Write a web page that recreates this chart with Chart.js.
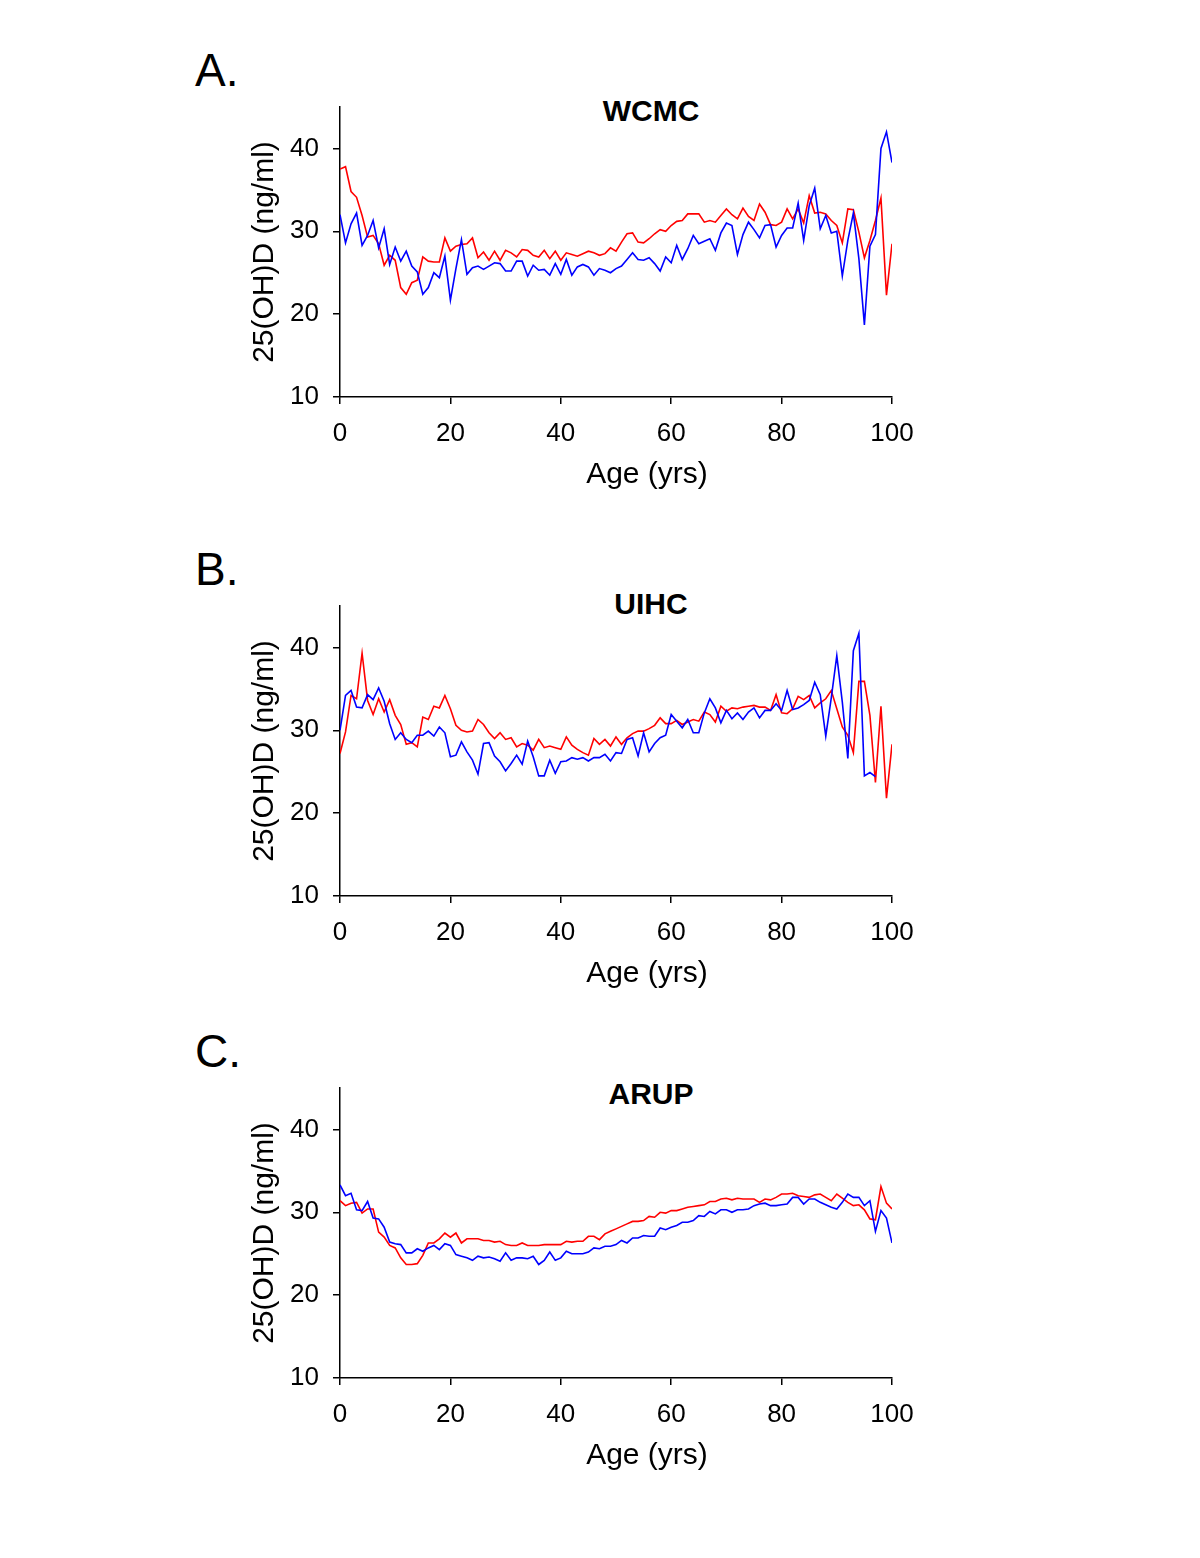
<!DOCTYPE html>
<html>
<head>
<meta charset="utf-8">
<script src="https://cdn.jsdelivr.net/npm/chart.js@4/dist/chart.umd.min.js"></script>
<style>
  html, body { margin:0; padding:0; background:#fff; }
  body { width:1200px; height:1558px; position:relative; overflow:hidden; font-family:"Liberation Sans", Arial, sans-serif; }
  .wrap { position:absolute; left:0; width:1200px; height:451px; }
  .letter { position:absolute; left:195px; font-size:46px; line-height:46px; color:#000; }
  .ptitle { position:absolute; left:551px; width:200px; text-align:center; font-size:30px; line-height:30px; font-weight:bold; color:#000; }
  .xtitle { position:absolute; left:547px; width:200px; text-align:center; font-size:30px; line-height:30px; color:#000; white-space:nowrap; }
</style>
</head>
<body>
<div class="letter" style="top:47px">A.</div>
<div class="letter" style="top:546px">B.</div>
<div class="letter" style="top:1028px">C.</div>
<div class="ptitle" style="top:96px">WCMC</div>
<div class="ptitle" style="top:589px">UIHC</div>
<div class="ptitle" style="top:1079px">ARUP</div>
<div class="wrap" style="top:47px"><canvas id="cA" width="1200" height="451"></canvas></div>
<div class="wrap" style="top:546px"><canvas id="cB" width="1200" height="451"></canvas></div>
<div class="wrap" style="top:1028px"><canvas id="cC" width="1200" height="451"></canvas></div>
<div class="xtitle" id="xtA" style="top:458px"></div>
<div class="xtitle" id="xtB" style="top:957px"></div>
<div class="xtitle" id="xtC" style="top:1439px"></div>
<script>
const xTicks = [0, 20, 40, 60, 80, 100];
const yTicks = [10, 20, 30, 40];
const xTitle = 'Age (yrs)';
const yTitle = '25(OH)D (ng/ml)';

const wcmcRed = [37.5,37.8,34.8,34.1,31.9,29.3,29.5,28.5,25.9,27.1,
  26.5,23.2,22.4,23.8,24.1,26.9,26.4,26.3,26.3,29.2,
  27.6,28.2,28.4,28.5,29.2,26.8,27.5,26.5,27.6,26.5,
  27.7,27.4,26.9,27.8,27.7,27.1,26.9,27.7,26.7,27.6,
  26.5,27.4,27.2,27.0,27.3,27.6,27.4,27.1,27.3,28.0,
  27.6,28.7,29.7,29.8,28.7,28.6,29.1,29.7,30.2,30.0,
  30.7,31.2,31.3,32.1,32.1,32.1,31.1,31.3,31.1,31.9,
  32.7,32.0,31.5,32.8,31.8,31.3,33.3,32.3,30.8,30.7,
  31.1,32.7,31.5,32.7,31.0,34.3,32.2,32.3,32.1,31.3,
  30.7,28.6,32.7,32.6,29.9,26.8,28.9,31.3,34.0,22.3,28.5];
const wcmcBlue = [32.0,28.6,30.9,32.2,28.3,29.5,31.3,28.0,30.3,26.0,
  28.1,26.4,27.6,25.8,25.1,22.4,23.2,25.0,24.4,27.0,
  21.7,25.5,29.0,24.8,25.6,25.8,25.4,25.8,26.2,26.1,
  25.2,25.2,26.4,26.4,24.6,25.9,25.3,25.4,24.7,26.1,
  24.8,26.6,24.7,25.7,26.0,25.7,24.7,25.5,25.3,25.0,
  25.5,25.8,26.6,27.4,26.6,26.5,26.8,26.1,25.2,26.9,
  26.2,28.3,26.6,27.9,29.5,28.5,28.8,29.1,27.7,29.8,
  31.0,30.7,27.2,29.6,31.1,30.2,29.2,30.7,30.8,28.1,
  29.5,30.4,30.4,33.4,28.9,33.1,35.2,30.3,31.9,29.8,
  30.0,24.6,28.9,32.2,26.7,18.7,28.2,29.6,40.0,42.0,38.3];

const uihcRed = [27.2,29.8,34.2,33.8,39.3,33.6,31.9,33.8,32.2,33.7,
  31.8,30.7,28.3,28.5,28.0,31.6,31.3,32.9,32.7,34.2,
  32.6,30.6,30.0,29.8,29.9,31.3,30.7,29.7,29.0,29.7,
  28.9,29.1,28.0,28.4,28.2,27.6,28.9,27.9,28.1,27.9,
  27.7,29.2,28.2,27.7,27.3,27.0,29.0,28.3,28.9,28.1,
  29.2,28.3,29.1,29.6,29.9,29.9,30.2,30.6,31.5,30.8,
  30.8,31.2,30.7,31.0,31.3,31.1,32.2,31.9,31.0,32.9,
  32.3,32.7,32.6,32.8,32.9,33.0,32.8,32.8,32.4,34.3,
  32.1,32.0,32.6,34.1,33.7,34.2,32.7,33.3,33.8,34.8,
  32.6,30.4,29.4,27.3,35.9,35.9,31.8,23.7,32.9,21.8,28.3];
const uihcBlue = [30.0,34.2,34.8,32.8,32.7,34.3,33.7,35.1,33.5,30.8,
  28.9,29.7,28.9,28.5,29.4,29.4,29.9,29.3,30.4,29.7,
  26.8,27.0,28.6,27.4,26.4,24.7,28.4,28.5,26.9,26.2,
  25.1,26.0,27.0,25.9,28.7,26.8,24.5,24.5,26.4,24.8,
  26.2,26.3,26.7,26.5,26.7,26.3,26.7,26.7,27.1,26.3,
  27.3,27.2,28.9,29.1,26.9,29.7,27.4,28.4,29.1,29.4,
  31.9,31.1,30.3,31.3,29.7,29.7,32.1,33.8,32.7,30.9,
  32.4,31.4,32.1,31.3,32.2,32.7,31.5,32.4,32.4,33.2,
  32.4,34.8,32.5,32.7,33.1,33.6,35.8,34.3,29.3,33.9,
  39.0,33.4,26.6,39.6,41.7,24.5,24.9,24.4];

const arupRed = [31.4,30.8,31.1,31.2,29.9,30.4,30.4,27.6,27.0,26.0,
  25.7,24.5,23.7,23.7,23.8,24.8,26.3,26.3,26.8,27.5,
  27.0,27.5,26.3,26.8,26.8,26.8,26.6,26.6,26.4,26.5,
  26.1,26.0,26.0,26.3,26.0,26.0,26.0,26.1,26.1,26.1,
  26.1,26.5,26.4,26.5,26.5,27.1,27.1,26.7,27.4,27.7,
  28.0,28.3,28.6,28.9,28.9,29.0,29.5,29.4,30.0,29.9,
  30.2,30.2,30.4,30.6,30.7,30.8,30.9,31.3,31.3,31.6,
  31.7,31.5,31.7,31.6,31.6,31.6,31.2,31.6,31.5,31.8,
  32.2,32.2,32.3,32.0,31.9,31.8,32.1,32.2,31.8,31.4,
  32.2,31.7,31.2,30.8,30.9,30.3,29.2,29.1,33.1,31.1,30.4];
const arupBlue = [33.3,32.0,32.3,30.3,30.2,31.3,29.3,29.2,28.2,26.4,
  26.2,26.1,25.1,25.1,25.6,25.3,25.7,26.0,25.5,26.2,
  26.0,24.9,24.7,24.5,24.2,24.7,24.5,24.6,24.4,24.1,
  25.1,24.2,24.5,24.5,24.4,24.7,23.7,24.2,25.2,24.2,
  24.5,25.3,25.0,25.0,25.0,25.2,25.7,25.6,25.9,25.9,
  26.1,26.6,26.3,26.9,26.9,27.2,27.1,27.1,28.1,27.9,
  28.2,28.4,28.8,28.8,29.0,29.6,29.5,30.1,29.8,30.3,
  30.3,30.0,30.3,30.3,30.4,30.8,31.0,31.1,30.8,30.8,
  30.9,31.0,31.8,31.8,31.0,31.6,31.6,31.2,30.9,30.6,
  30.4,31.2,32.2,31.8,31.8,30.8,31.4,27.7,30.2,29.3,26.3];

const FONT = '"Liberation Sans", Arial, sans-serif';
const RED = '#ff0000';
const BLUE = '#0000ff';

function pts(arr) { return arr.map((v, i) => ({ x: i, y: v })); }

function makeChart(id, red, blue) {
  new Chart(document.getElementById(id), {
    type: 'line',
    data: {
      datasets: [
        { data: pts(blue), borderColor: BLUE, borderWidth: 1.6, pointRadius: 0, tension: 0, fill: false },
        { data: pts(red), borderColor: RED, borderWidth: 1.6, pointRadius: 0, tension: 0, fill: false }
      ]
    },
    options: {
      responsive: false,
      animation: false,
      devicePixelRatio: 1,
      layout: { padding: { left: 245, right: 308, top: 60, bottom: 8 } },
      plugins: { legend: { display: false }, tooltip: { enabled: false }, title: { display: false } },
      scales: {
        x: {
          type: 'linear', min: 0, max: 100,
          afterBuildTicks: s => { s.ticks = xTicks.map(v => ({ value: v })); },
          afterFit: s => { s.height = 93; },
          ticks: { color: '#000', font: { family: FONT, size: 26 }, padding: 14, maxRotation: 0 },
          grid: { drawOnChartArea: false, drawTicks: true, tickLength: 7, color: '#000', lineWidth: 1.5 },
          border: { display: true, color: '#000', width: 1.5 },
          title: { display: false }
        },
        y: {
          type: 'linear', min: 10, max: 45,
          afterBuildTicks: s => { s.ticks = yTicks.map(v => ({ value: v })); },
          afterFit: s => { s.width = 95; },
          ticks: { color: '#000', font: { family: FONT, size: 26 }, padding: 14 },
          grid: { drawOnChartArea: false, drawTicks: true, tickLength: 7, color: '#000', lineWidth: 1.5 },
          border: { display: true, color: '#000', width: 1.5 },
          title: { display: true, text: yTitle, color: '#000', font: { family: FONT, size: 30 }, padding: { top: 2, bottom: 0 } }
        }
      }
    }
  });
}

['xtA', 'xtB', 'xtC'].forEach(id => { document.getElementById(id).textContent = xTitle; });

makeChart('cA', wcmcRed, wcmcBlue);
makeChart('cB', uihcRed, uihcBlue);
makeChart('cC', arupRed, arupBlue);
</script>
</body>
</html>
